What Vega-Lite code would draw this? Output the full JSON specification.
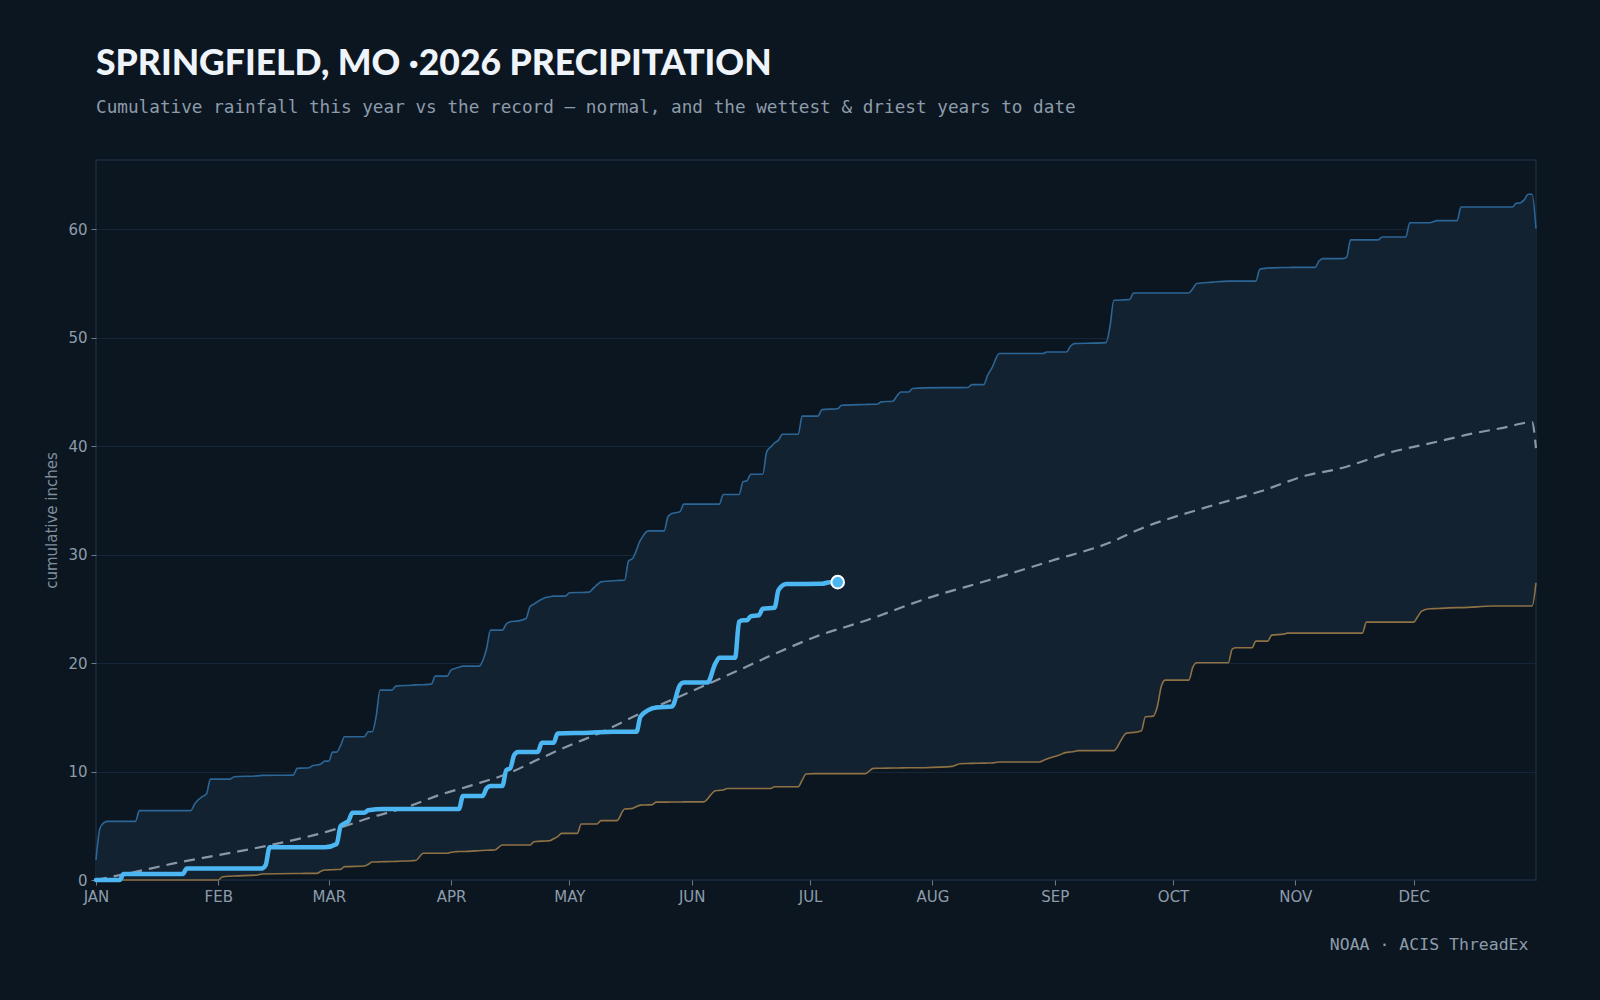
{
  "$schema": "https://vega.github.io/schema/vega-lite/v6.json",
  "width": 1440,
  "height": 720,
  "autosize": "none",
  "padding": {"left": 96, "top": 160, "right": 64, "bottom": 120},
  "title": {
    "text": "SPRINGFIELD, MO ·2026 PRECIPITATION",
    "subtitle": "Cumulative rainfall this year vs the record — normal, and the wettest & driest years to date",
    "anchor": "start",
    "frame": "group",
    "font": "Lato",
    "fontSize": 35.5,
    "fontWeight": 900,
    "color": "#eef4fa",
    "subtitleFont": "DejaVu Sans Mono",
    "subtitleFontSize": 17.7,
    "subtitleColor": "#8d9cab",
    "subtitlePadding": 17,
    "offset": 43
  },
  "datasets": {
    "record": [
      {"date": "2026-01-01", "wet": 1.84, "dry": 0},
      {"date": "2026-01-02", "wet": 4.76, "dry": 0},
      {"date": "2026-01-03", "wet": 5.28, "dry": 0},
      {"date": "2026-01-04", "wet": 5.4, "dry": 0},
      {"date": "2026-01-11", "wet": 5.4, "dry": 0},
      {"date": "2026-01-12", "wet": 6.39, "dry": 0},
      {"date": "2026-01-25", "wet": 6.39, "dry": 0},
      {"date": "2026-01-26", "wet": 7.0, "dry": 0},
      {"date": "2026-01-28", "wet": 7.7, "dry": 0},
      {"date": "2026-01-29", "wet": 7.92, "dry": 0},
      {"date": "2026-01-30", "wet": 9.3, "dry": 0},
      {"date": "2026-02-01", "wet": 9.3, "dry": 0},
      {"date": "2026-02-02", "wet": 9.3, "dry": 0.28},
      {"date": "2026-02-04", "wet": 9.3, "dry": 0.35},
      {"date": "2026-02-05", "wet": 9.52, "dry": 0.37},
      {"date": "2026-02-11", "wet": 9.6, "dry": 0.46},
      {"date": "2026-02-12", "wet": 9.64, "dry": 0.55},
      {"date": "2026-02-20", "wet": 9.67, "dry": 0.6},
      {"date": "2026-02-21", "wet": 10.29, "dry": 0.6},
      {"date": "2026-02-23", "wet": 10.32, "dry": 0.61},
      {"date": "2026-02-24", "wet": 10.35, "dry": 0.61},
      {"date": "2026-02-25", "wet": 10.56, "dry": 0.61},
      {"date": "2026-02-26", "wet": 10.6, "dry": 0.61},
      {"date": "2026-02-27", "wet": 10.69, "dry": 0.8},
      {"date": "2026-02-28", "wet": 10.96, "dry": 0.92},
      {"date": "2026-03-01", "wet": 10.96, "dry": 0.93},
      {"date": "2026-03-02", "wet": 11.79, "dry": 0.95},
      {"date": "2026-03-03", "wet": 11.79, "dry": 0.97},
      {"date": "2026-03-04", "wet": 12.4, "dry": 0.98},
      {"date": "2026-03-05", "wet": 13.2, "dry": 1.23},
      {"date": "2026-03-10", "wet": 13.2, "dry": 1.29},
      {"date": "2026-03-11", "wet": 13.66, "dry": 1.45},
      {"date": "2026-03-12", "wet": 13.66, "dry": 1.66},
      {"date": "2026-03-13", "wet": 15.05, "dry": 1.66},
      {"date": "2026-03-14", "wet": 17.5, "dry": 1.68},
      {"date": "2026-03-17", "wet": 17.5, "dry": 1.7},
      {"date": "2026-03-18", "wet": 17.87, "dry": 1.72},
      {"date": "2026-03-22", "wet": 17.95, "dry": 1.78},
      {"date": "2026-03-23", "wet": 17.98, "dry": 1.8},
      {"date": "2026-03-25", "wet": 18.0, "dry": 2.46},
      {"date": "2026-03-27", "wet": 18.05, "dry": 2.46},
      {"date": "2026-03-28", "wet": 18.79, "dry": 2.46},
      {"date": "2026-03-31", "wet": 18.79, "dry": 2.46},
      {"date": "2026-04-01", "wet": 19.35, "dry": 2.55},
      {"date": "2026-04-02", "wet": 19.5, "dry": 2.61},
      {"date": "2026-04-03", "wet": 19.6, "dry": 2.62},
      {"date": "2026-04-04", "wet": 19.71, "dry": 2.63},
      {"date": "2026-04-08", "wet": 19.71, "dry": 2.7},
      {"date": "2026-04-10", "wet": 21.34, "dry": 2.74},
      {"date": "2026-04-11", "wet": 23.03, "dry": 2.75},
      {"date": "2026-04-12", "wet": 23.03, "dry": 2.76},
      {"date": "2026-04-14", "wet": 23.03, "dry": 3.22},
      {"date": "2026-04-15", "wet": 23.6, "dry": 3.22},
      {"date": "2026-04-16", "wet": 23.8, "dry": 3.22},
      {"date": "2026-04-18", "wet": 23.88, "dry": 3.22},
      {"date": "2026-04-20", "wet": 24.1, "dry": 3.22},
      {"date": "2026-04-21", "wet": 25.18, "dry": 3.22},
      {"date": "2026-04-22", "wet": 25.43, "dry": 3.53},
      {"date": "2026-04-25", "wet": 26.04, "dry": 3.6},
      {"date": "2026-04-26", "wet": 26.1, "dry": 3.62},
      {"date": "2026-04-27", "wet": 26.16, "dry": 3.8},
      {"date": "2026-04-28", "wet": 26.16, "dry": 3.99},
      {"date": "2026-04-29", "wet": 26.16, "dry": 4.3},
      {"date": "2026-04-30", "wet": 26.16, "dry": 4.3},
      {"date": "2026-05-01", "wet": 26.47, "dry": 4.3},
      {"date": "2026-05-03", "wet": 26.5, "dry": 4.3},
      {"date": "2026-05-04", "wet": 26.5, "dry": 5.16},
      {"date": "2026-05-06", "wet": 26.53, "dry": 5.16},
      {"date": "2026-05-07", "wet": 26.87, "dry": 5.16},
      {"date": "2026-05-08", "wet": 27.2, "dry": 5.16},
      {"date": "2026-05-09", "wet": 27.48, "dry": 5.47},
      {"date": "2026-05-13", "wet": 27.6, "dry": 5.47},
      {"date": "2026-05-15", "wet": 27.63, "dry": 6.54},
      {"date": "2026-05-16", "wet": 29.42, "dry": 6.56},
      {"date": "2026-05-17", "wet": 29.63, "dry": 6.6},
      {"date": "2026-05-19", "wet": 31.32, "dry": 6.9},
      {"date": "2026-05-21", "wet": 32.18, "dry": 6.92},
      {"date": "2026-05-22", "wet": 32.18, "dry": 6.95},
      {"date": "2026-05-23", "wet": 32.18, "dry": 7.18},
      {"date": "2026-05-25", "wet": 32.18, "dry": 7.18},
      {"date": "2026-05-26", "wet": 33.5, "dry": 7.18},
      {"date": "2026-05-27", "wet": 33.78, "dry": 7.19},
      {"date": "2026-05-29", "wet": 33.93, "dry": 7.19},
      {"date": "2026-05-30", "wet": 34.64, "dry": 7.2},
      {"date": "2026-06-04", "wet": 34.64, "dry": 7.2},
      {"date": "2026-06-07", "wet": 34.64, "dry": 8.23},
      {"date": "2026-06-08", "wet": 34.64, "dry": 8.26},
      {"date": "2026-06-09", "wet": 35.53, "dry": 8.3},
      {"date": "2026-06-10", "wet": 35.53, "dry": 8.44},
      {"date": "2026-06-13", "wet": 35.53, "dry": 8.44},
      {"date": "2026-06-14", "wet": 36.7, "dry": 8.44},
      {"date": "2026-06-15", "wet": 36.8, "dry": 8.44},
      {"date": "2026-06-16", "wet": 37.4, "dry": 8.44},
      {"date": "2026-06-19", "wet": 37.4, "dry": 8.44},
      {"date": "2026-06-20", "wet": 39.46, "dry": 8.44},
      {"date": "2026-06-21", "wet": 39.9, "dry": 8.44},
      {"date": "2026-06-22", "wet": 40.29, "dry": 8.6},
      {"date": "2026-06-23", "wet": 40.54, "dry": 8.6},
      {"date": "2026-06-24", "wet": 41.09, "dry": 8.6},
      {"date": "2026-06-28", "wet": 41.09, "dry": 8.6},
      {"date": "2026-06-29", "wet": 42.75, "dry": 9.2},
      {"date": "2026-06-30", "wet": 42.75, "dry": 9.77},
      {"date": "2026-07-02", "wet": 42.75, "dry": 9.8},
      {"date": "2026-07-03", "wet": 42.75, "dry": 9.8},
      {"date": "2026-07-04", "wet": 43.35, "dry": 9.8},
      {"date": "2026-07-08", "wet": 43.44, "dry": 9.8},
      {"date": "2026-07-09", "wet": 43.76, "dry": 9.8},
      {"date": "2026-07-15", "wet": 43.83, "dry": 9.8},
      {"date": "2026-07-17", "wet": 43.85, "dry": 10.29},
      {"date": "2026-07-18", "wet": 43.85, "dry": 10.3},
      {"date": "2026-07-19", "wet": 44.07, "dry": 10.3},
      {"date": "2026-07-22", "wet": 44.13, "dry": 10.32},
      {"date": "2026-07-23", "wet": 44.6, "dry": 10.32},
      {"date": "2026-07-24", "wet": 44.98, "dry": 10.33},
      {"date": "2026-07-26", "wet": 44.98, "dry": 10.34},
      {"date": "2026-07-27", "wet": 45.3, "dry": 10.34},
      {"date": "2026-07-30", "wet": 45.36, "dry": 10.35},
      {"date": "2026-08-06", "wet": 45.38, "dry": 10.47},
      {"date": "2026-08-08", "wet": 45.38, "dry": 10.72},
      {"date": "2026-08-10", "wet": 45.39, "dry": 10.74},
      {"date": "2026-08-11", "wet": 45.66, "dry": 10.75},
      {"date": "2026-08-14", "wet": 45.66, "dry": 10.77},
      {"date": "2026-08-15", "wet": 46.52, "dry": 10.78},
      {"date": "2026-08-16", "wet": 47.13, "dry": 10.78},
      {"date": "2026-08-18", "wet": 48.52, "dry": 10.87},
      {"date": "2026-08-28", "wet": 48.52, "dry": 10.87},
      {"date": "2026-08-29", "wet": 48.52, "dry": 11.0},
      {"date": "2026-08-30", "wet": 48.67, "dry": 11.15},
      {"date": "2026-09-02", "wet": 48.67, "dry": 11.5},
      {"date": "2026-09-04", "wet": 48.67, "dry": 11.76},
      {"date": "2026-09-05", "wet": 49.2, "dry": 11.8},
      {"date": "2026-09-06", "wet": 49.44, "dry": 11.85},
      {"date": "2026-09-07", "wet": 49.45, "dry": 11.92},
      {"date": "2026-09-14", "wet": 49.53, "dry": 11.92},
      {"date": "2026-09-15", "wet": 50.97, "dry": 11.92},
      {"date": "2026-09-16", "wet": 53.43, "dry": 11.92},
      {"date": "2026-09-18", "wet": 53.45, "dry": 12.99},
      {"date": "2026-09-19", "wet": 53.48, "dry": 13.5},
      {"date": "2026-09-20", "wet": 53.5, "dry": 13.57},
      {"date": "2026-09-21", "wet": 54.1, "dry": 13.6},
      {"date": "2026-09-23", "wet": 54.1, "dry": 13.76},
      {"date": "2026-09-24", "wet": 54.1, "dry": 15.05},
      {"date": "2026-09-26", "wet": 54.1, "dry": 15.1},
      {"date": "2026-09-27", "wet": 54.1, "dry": 15.97},
      {"date": "2026-09-28", "wet": 54.1, "dry": 17.81},
      {"date": "2026-09-29", "wet": 54.1, "dry": 18.42},
      {"date": "2026-10-05", "wet": 54.1, "dry": 18.42},
      {"date": "2026-10-06", "wet": 54.5, "dry": 19.59},
      {"date": "2026-10-07", "wet": 54.97, "dry": 20.02},
      {"date": "2026-10-11", "wet": 55.1, "dry": 20.02},
      {"date": "2026-10-15", "wet": 55.2, "dry": 20.02},
      {"date": "2026-10-16", "wet": 55.2, "dry": 21.28},
      {"date": "2026-10-17", "wet": 55.2, "dry": 21.4},
      {"date": "2026-10-21", "wet": 55.2, "dry": 21.4},
      {"date": "2026-10-22", "wet": 55.2, "dry": 22.02},
      {"date": "2026-10-23", "wet": 56.29, "dry": 22.02},
      {"date": "2026-10-25", "wet": 56.4, "dry": 22.02},
      {"date": "2026-10-26", "wet": 56.42, "dry": 22.57},
      {"date": "2026-10-29", "wet": 56.45, "dry": 22.66},
      {"date": "2026-10-30", "wet": 56.45, "dry": 22.75},
      {"date": "2026-10-31", "wet": 56.46, "dry": 22.75},
      {"date": "2026-11-06", "wet": 56.46, "dry": 22.75},
      {"date": "2026-11-07", "wet": 57.05, "dry": 22.75},
      {"date": "2026-11-08", "wet": 57.27, "dry": 22.75},
      {"date": "2026-11-13", "wet": 57.27, "dry": 22.75},
      {"date": "2026-11-14", "wet": 57.4, "dry": 22.75},
      {"date": "2026-11-15", "wet": 59.0, "dry": 22.75},
      {"date": "2026-11-18", "wet": 59.0, "dry": 22.75},
      {"date": "2026-11-19", "wet": 59.0, "dry": 23.77},
      {"date": "2026-11-22", "wet": 59.0, "dry": 23.77},
      {"date": "2026-11-23", "wet": 59.27, "dry": 23.77},
      {"date": "2026-11-29", "wet": 59.27, "dry": 23.77},
      {"date": "2026-11-30", "wet": 60.58, "dry": 23.77},
      {"date": "2026-12-01", "wet": 60.58, "dry": 23.77},
      {"date": "2026-12-02", "wet": 60.58, "dry": 24.26},
      {"date": "2026-12-03", "wet": 60.58, "dry": 24.78},
      {"date": "2026-12-05", "wet": 60.58, "dry": 25.0},
      {"date": "2026-12-07", "wet": 60.77, "dry": 25.02},
      {"date": "2026-12-12", "wet": 60.77, "dry": 25.1},
      {"date": "2026-12-13", "wet": 62.03, "dry": 25.1},
      {"date": "2026-12-21", "wet": 62.03, "dry": 25.25},
      {"date": "2026-12-26", "wet": 62.03, "dry": 25.25},
      {"date": "2026-12-27", "wet": 62.37, "dry": 25.25},
      {"date": "2026-12-28", "wet": 62.4, "dry": 25.25},
      {"date": "2026-12-29", "wet": 62.7, "dry": 25.25},
      {"date": "2026-12-30", "wet": 63.2, "dry": 25.25},
      {"date": "2026-12-31", "wet": 63.2, "dry": 25.25},
      {"date": "2027-01-01", "wet": 60.03, "dry": 27.39}
    ],
    "normal": [
      {"date": "2026-01-01", "inches": 0},
      {"date": "2026-01-11", "inches": 0.75},
      {"date": "2026-01-21", "inches": 1.55},
      {"date": "2026-02-01", "inches": 2.3},
      {"date": "2026-02-14", "inches": 3.2},
      {"date": "2026-03-01", "inches": 4.5},
      {"date": "2026-03-12", "inches": 5.8},
      {"date": "2026-03-21", "inches": 6.75},
      {"date": "2026-03-29", "inches": 7.83},
      {"date": "2026-04-06", "inches": 8.7},
      {"date": "2026-04-16", "inches": 9.9},
      {"date": "2026-04-23", "inches": 11.1},
      {"date": "2026-05-01", "inches": 12.4},
      {"date": "2026-05-09", "inches": 13.6},
      {"date": "2026-05-19", "inches": 15.35},
      {"date": "2026-06-01", "inches": 17.4},
      {"date": "2026-06-13", "inches": 19.35},
      {"date": "2026-06-23", "inches": 21.0},
      {"date": "2026-07-03", "inches": 22.5},
      {"date": "2026-07-15", "inches": 23.9},
      {"date": "2026-07-31", "inches": 26.0},
      {"date": "2026-08-15", "inches": 27.6},
      {"date": "2026-08-31", "inches": 29.4},
      {"date": "2026-09-15", "inches": 31.1},
      {"date": "2026-09-23", "inches": 32.4},
      {"date": "2026-10-08", "inches": 34.2},
      {"date": "2026-10-23", "inches": 35.8},
      {"date": "2026-11-04", "inches": 37.3},
      {"date": "2026-11-12", "inches": 37.9},
      {"date": "2026-11-25", "inches": 39.4},
      {"date": "2026-12-07", "inches": 40.4},
      {"date": "2026-12-16", "inches": 41.15},
      {"date": "2026-12-24", "inches": 41.7},
      {"date": "2026-12-31", "inches": 42.2},
      {"date": "2027-01-01", "inches": 39.8}
    ],
    "thisYear": [
      {"date": "2026-01-01", "inches": 0},
      {"date": "2026-01-07", "inches": 0},
      {"date": "2026-01-08", "inches": 0.55},
      {"date": "2026-01-23", "inches": 0.55},
      {"date": "2026-01-24", "inches": 1.07},
      {"date": "2026-02-12", "inches": 1.07},
      {"date": "2026-02-13", "inches": 1.38},
      {"date": "2026-02-14", "inches": 3.01},
      {"date": "2026-02-28", "inches": 3.01},
      {"date": "2026-03-03", "inches": 3.32},
      {"date": "2026-03-04", "inches": 4.97},
      {"date": "2026-03-05", "inches": 5.22},
      {"date": "2026-03-06", "inches": 5.44},
      {"date": "2026-03-07", "inches": 6.2},
      {"date": "2026-03-10", "inches": 6.2},
      {"date": "2026-03-11", "inches": 6.42},
      {"date": "2026-03-15", "inches": 6.54},
      {"date": "2026-04-03", "inches": 6.54},
      {"date": "2026-04-04", "inches": 7.74},
      {"date": "2026-04-09", "inches": 7.74},
      {"date": "2026-04-10", "inches": 8.45},
      {"date": "2026-04-11", "inches": 8.66},
      {"date": "2026-04-14", "inches": 8.66},
      {"date": "2026-04-15", "inches": 10.13},
      {"date": "2026-04-16", "inches": 10.29},
      {"date": "2026-04-17", "inches": 11.52},
      {"date": "2026-04-18", "inches": 11.8},
      {"date": "2026-04-23", "inches": 11.8},
      {"date": "2026-04-24", "inches": 12.65},
      {"date": "2026-04-27", "inches": 12.65},
      {"date": "2026-04-28", "inches": 13.51},
      {"date": "2026-05-06", "inches": 13.57},
      {"date": "2026-05-12", "inches": 13.66},
      {"date": "2026-05-18", "inches": 13.66},
      {"date": "2026-05-19", "inches": 15.05},
      {"date": "2026-05-21", "inches": 15.66},
      {"date": "2026-05-23", "inches": 15.9},
      {"date": "2026-05-27", "inches": 16.0},
      {"date": "2026-05-29", "inches": 17.96},
      {"date": "2026-05-30", "inches": 18.2},
      {"date": "2026-06-05", "inches": 18.2},
      {"date": "2026-06-07", "inches": 19.96},
      {"date": "2026-06-08", "inches": 20.48},
      {"date": "2026-06-12", "inches": 20.48},
      {"date": "2026-06-13", "inches": 23.8},
      {"date": "2026-06-14", "inches": 23.95},
      {"date": "2026-06-15", "inches": 23.95},
      {"date": "2026-06-16", "inches": 24.32},
      {"date": "2026-06-18", "inches": 24.4},
      {"date": "2026-06-19", "inches": 25.0},
      {"date": "2026-06-22", "inches": 25.1},
      {"date": "2026-06-23", "inches": 26.72},
      {"date": "2026-06-25", "inches": 27.27},
      {"date": "2026-07-04", "inches": 27.3},
      {"date": "2026-07-06", "inches": 27.45},
      {"date": "2026-07-08", "inches": 27.45}
    ]
  },
  "encoding": {
    "x": {
      "field": "date",
      "type": "temporal",
      "title": "NOAA · ACIS ThreadEx",
      "scale": {
        "type": "utc",
        "domain": [
          {"year": 2026, "month": 1, "date": 1, "utc": true},
          {"year": 2027, "month": 1, "date": 1, "utc": true}
        ]
      },
      "axis": {
        "values": [
          {"year": 2026, "month": 1, "date": 1, "utc": true},
          {"year": 2026, "month": 2, "date": 1, "utc": true},
          {"year": 2026, "month": 3, "date": 1, "utc": true},
          {"year": 2026, "month": 4, "date": 1, "utc": true},
          {"year": 2026, "month": 5, "date": 1, "utc": true},
          {"year": 2026, "month": 6, "date": 1, "utc": true},
          {"year": 2026, "month": 7, "date": 1, "utc": true},
          {"year": 2026, "month": 8, "date": 1, "utc": true},
          {"year": 2026, "month": 9, "date": 1, "utc": true},
          {"year": 2026, "month": 10, "date": 1, "utc": true},
          {"year": 2026, "month": 11, "date": 1, "utc": true},
          {"year": 2026, "month": 12, "date": 1, "utc": true}
        ],
        "labelExpr": "upper(utcFormat(datum.value, '%b'))",
        "labelFlush": false,
        "grid": false,
        "labelPadding": 4,
        "titleFont": "DejaVu Sans Mono",
        "titleFontSize": 16.5,
        "titleFontWeight": "normal",
        "titleColor": "#8d9cab",
        "titleAlign": "right",
        "titleBaseline": "middle",
        "titleX": 1432,
        "titleY": 64
      }
    }
  },
  "layer": [
    {
      "data": {"name": "record"},
      "mark": {"type": "area", "interpolate": "monotone", "color": "#122230"},
      "encoding": {
        "y": {
          "field": "wet",
          "type": "quantitative",
          "title": "cumulative inches",
          "scale": {"domain": [0, 66.36], "nice": false, "zero": true},
          "axis": {
            "values": [0, 10, 20, 30, 40, 50, 60],
            "grid": true,
            "titleFont": "DejaVu Sans",
            "titleFontSize": 15,
            "titleFontWeight": "normal",
            "titleColor": "#7f8f9f",
            "titlePadding": 8
          }
        },
        "y2": {"field": "dry"}
      }
    },
    {
      "data": {"name": "record"},
      "mark": {"type": "line", "interpolate": "monotone", "color": "#2c6696", "strokeWidth": 1.6},
      "encoding": {"y": {"field": "wet", "type": "quantitative", "title": "cumulative inches"}}
    },
    {
      "data": {"name": "record"},
      "mark": {"type": "line", "interpolate": "monotone", "color": "#8e7246", "strokeWidth": 1.6},
      "encoding": {"y": {"field": "dry", "type": "quantitative", "title": "cumulative inches"}}
    },
    {
      "data": {"name": "normal"},
      "mark": {"type": "line", "interpolate": "monotone", "color": "#8898a8", "strokeWidth": 2.2, "strokeDash": [11, 7]},
      "encoding": {"y": {"field": "inches", "type": "quantitative", "title": "cumulative inches"}}
    },
    {
      "data": {"name": "thisYear"},
      "mark": {"type": "line", "interpolate": "monotone", "color": "#4cb6f3", "strokeWidth": 4.5, "strokeJoin": "round", "strokeCap": "round"},
      "encoding": {"y": {"field": "inches", "type": "quantitative", "title": "cumulative inches"}}
    },
    {
      "data": {"name": "thisYear"},
      "transform": [
        {"joinaggregate": [{"op": "max", "field": "date", "as": "latest"}]},
        {"filter": "time(datum.date) == time(datum.latest)"}
      ],
      "mark": {"type": "point", "filled": true, "size": 160, "color": "#4cb6f3", "stroke": "#ffffff", "strokeWidth": 2, "opacity": 1},
      "encoding": {"y": {"field": "inches", "type": "quantitative", "title": "cumulative inches"}}
    }
  ],
  "config": {
    "background": "#0c1620",
    "view": {"stroke": "#1b2d3e", "strokeWidth": 1.5},
    "axis": {
      "domain": false,
      "labelFont": "DejaVu Sans",
      "labelFontSize": 15,
      "labelColor": "#8d9cab",
      "tickColor": "#6d7d8d",
      "tickSize": 5,
      "gridColor": "#16263a",
      "gridWidth": 1
    },
    "axisY": {"labelPadding": 4}
  }
}
